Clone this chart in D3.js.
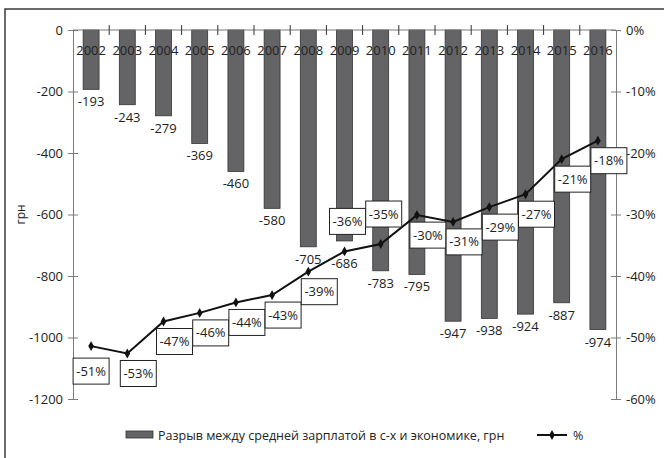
<!DOCTYPE html>
<html>
<head>
<meta charset="utf-8">
<script src="https://cdn.jsdelivr.net/npm/d3@7.9.0/dist/d3.min.js"></script>
<style>
  body { margin: 0; background: #fff; }
  svg { display: block; font-family: 'Open Sans', sans-serif; }
</style>
</head>
<body>
<svg id="chart" width="664" height="458"></svg>
<script>
// data
const years = ['2002', '2003', '2004', '2005', '2006', '2007', '2008', '2009',
  '2010', '2011', '2012', '2013', '2014', '2015', '2016'];
const gapUah = [-193, -243, -279, -369, -460, -580, -705, -686, -783, -795,
  -947, -938, -924, -887, -974];
const gapPct = [-51.4, -52.6, -47.4, -46.0, -44.3, -43.1, -39.3, -36.0, -34.8,
  -30.1, -31.2, -28.8, -26.7, -21.0, -18.0];
// where each % label box sits relative to its point
const pctLabelSide = ['below', 'below', 'below', 'below', 'below', 'below', 'below',
  'above', 'above', 'below', 'below', 'below', 'below', 'below', 'below'];

const leftTicks = [0, -200, -400, -600, -800, -1000, -1200];
const rightTicks = [0, -10, -20, -30, -40, -50, -60];

const barLegend = 'Разрыв между средней зарплатой в с-х и экономике, грн';
const lineLegend = '%';
const leftTitle = 'грн';

const rows = years.map((y, i) => ({
  year: y, uah: gapUah[i], pct: gapPct[i], side: pctLabelSide[i]
}));

const svg = d3.select('#chart');
const axisColor = '#7a7a7a';

// outer frame (only left and top edges are visible in the source)
svg.append('rect')
  .attr('x', 5).attr('y', 9)
  .attr('width', 720).attr('height', 520)
  .attr('fill', 'none')
  .attr('stroke', '#3a3a3a')
  .attr('stroke-width', 1.5);

const x = d3.scaleBand().domain(years).range([73, 616]);
const yL = d3.scaleLinear().domain([-1200, 0]).range([399, 30]);
const yR = d3.scaleLinear().domain([-60, 0]).range([399, 30]);

const barW = x.bandwidth() * 0.44;
const cx = d => x(d.year) + x.bandwidth() / 2;

// bars
svg.append('g')
  .selectAll('rect')
  .data(rows)
  .join('rect')
  .attr('x', d => cx(d) - barW / 2)
  .attr('y', yL(0))
  .attr('width', barW)
  .attr('height', d => yL(d.uah) - yL(0))
  .attr('fill', '#646466')
  .attr('stroke', '#333')
  .attr('stroke-width', 0.8);

// left axis
const leftAxis = svg.append('g')
  .attr('transform', `translate(${x.range()[0]},0)`)
  .call(d3.axisLeft(yL).tickValues(leftTicks).tickSize(5).tickSizeOuter(0)
    .tickFormat(d => String(d)));
leftAxis.select('.domain').attr('stroke', axisColor);
leftAxis.selectAll('.tick line').attr('x1', 5).attr('stroke', axisColor);
leftAxis.selectAll('.tick text')
  .attr('x', -10)
  .attr('fill', '#222')
  .style('font-size', '13px')
  .style('font-family', "'Open Sans', sans-serif");

// right axis
const rightAxis = svg.append('g')
  .attr('transform', `translate(${x.range()[1]},0)`)
  .call(d3.axisRight(yR).tickValues(rightTicks).tickSize(5).tickSizeOuter(0)
    .tickFormat(d => String(d) + '%'));
rightAxis.select('.domain').attr('stroke', axisColor);
rightAxis.selectAll('.tick line').attr('x1', -5).attr('stroke', axisColor);
rightAxis.selectAll('.tick text')
  .attr('x', 10)
  .attr('fill', '#222')
  .style('font-size', '13px')
  .style('font-family', "'Open Sans', sans-serif");

// category axis along the zero line
const catAxis = svg.append('g');
catAxis.append('line')
  .attr('x1', x.range()[0]).attr('x2', x.range()[1])
  .attr('y1', yL(0)).attr('y2', yL(0))
  .attr('stroke', axisColor);
catAxis.selectAll('line.tick')
  .data(years.slice(1))
  .join('line')
  .attr('class', 'tick')
  .attr('x1', d => x(d)).attr('x2', d => x(d))
  .attr('y1', yL(0) - 5).attr('y2', yL(0) + 5)
  .attr('stroke', '#333');
catAxis.selectAll('text')
  .data(years)
  .join('text')
  .attr('x', d => x(d) + x.bandwidth() / 2)
  .attr('y', yL(0) + 25)
  .attr('text-anchor', 'middle')
  .attr('fill', '#222')
  .style('font-size', '13px')
  .text(d => d);

// left axis title
svg.append('text')
  .attr('transform', `translate(25,${(yL(0) + yL(-1200)) / 2}) rotate(-90)`)
  .attr('text-anchor', 'middle')
  .attr('fill', '#222')
  .style('font-size', '12px')
  .text(leftTitle);

// bar value labels
svg.append('g')
  .selectAll('text')
  .data(rows)
  .join('text')
  .attr('x', cx)
  .attr('y', d => yL(d.uah) + 17 + (d.year === '2009' ? 10 : 0))
  .attr('text-anchor', 'middle')
  .attr('fill', '#222')
  .style('font-size', '13px')
  .text(d => d.uah);

// % line
const line = d3.line().x(cx).y(d => yR(d.pct));
svg.append('path')
  .datum(rows)
  .attr('d', line)
  .attr('fill', 'none')
  .attr('stroke', '#111')
  .attr('stroke-width', 2);

const diamond = d3.symbol().type(d3.symbolDiamond).size(28);
svg.append('g')
  .selectAll('path')
  .data(rows)
  .join('path')
  .attr('transform', d => `translate(${cx(d)},${yR(d.pct)})`)
  .attr('d', diamond)
  .attr('fill', '#111');

// % label boxes
const boxW = 36, boxH = 26;
const boxes = svg.append('g')
  .selectAll('g')
  .data(rows)
  .join('g')
  .attr('transform', d => {
    const dx = d.side === 'above' ? 3 : (d.year === '2002' ? 0 : 11);
    const dy = d.side === 'above' ? -30 : (d.year === '2002' ? 25 : 20);
    return `translate(${cx(d) + dx},${yR(d.pct) + dy})`;
  });
boxes.append('rect')
  .attr('x', -boxW / 2).attr('y', -boxH / 2)
  .attr('width', boxW).attr('height', boxH)
  .attr('fill', '#fff')
  .attr('stroke', '#222')
  .attr('stroke-width', 1);
boxes.append('text')
  .attr('text-anchor', 'middle')
  .attr('dy', '0.35em')
  .attr('fill', '#222')
  .style('font-size', '13px')
  .text(d => Math.round(d.pct) + '%');

// legend
const legend = svg.append('g');
legend.append('rect')
  .attr('x', 126).attr('y', 431)
  .attr('width', 27).attr('height', 7)
  .attr('fill', '#646466')
  .attr('stroke', '#333')
  .attr('stroke-width', 0.8);
legend.append('text')
  .attr('x', 158).attr('y', 439.5)
  .attr('fill', '#222')
  .style('font-size', '12.5px')
  .text(barLegend);
legend.append('line')
  .attr('x1', 537).attr('x2', 567)
  .attr('y1', 435).attr('y2', 435)
  .attr('stroke', '#111')
  .attr('stroke-width', 2);
legend.append('path')
  .attr('transform', 'translate(552,435)')
  .attr('d', diamond)
  .attr('fill', '#111');
legend.append('text')
  .attr('x', 573).attr('y', 439.5)
  .attr('fill', '#222')
  .style('font-size', '12.5px')
  .text(lineLegend);
</script>
</body>
</html>
